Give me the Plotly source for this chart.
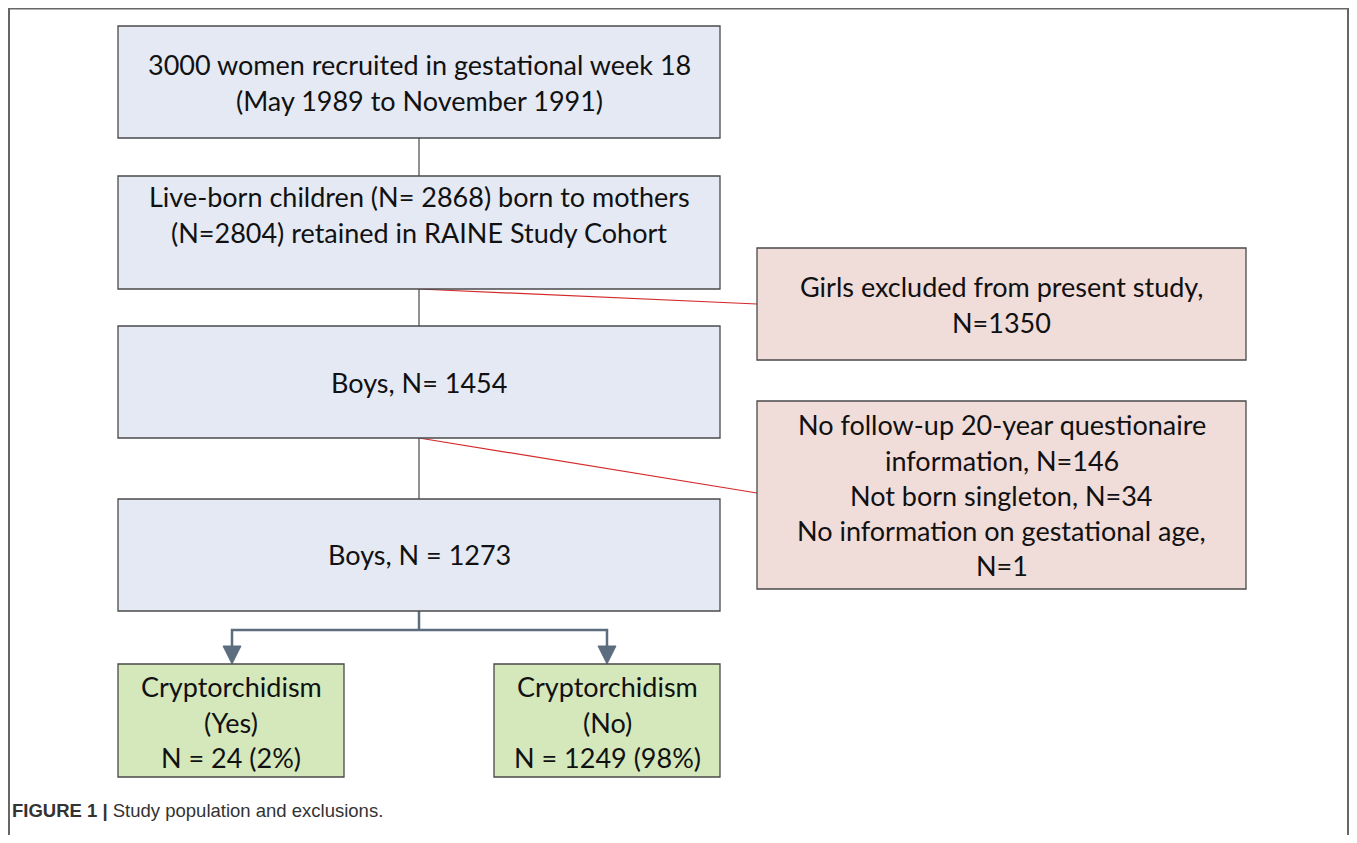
import plotly.graph_objects as go

PAGE_W, PAGE_H = 1357, 843
OFF = 8  # page body margin compensation
W, H = PAGE_W - 2 * OFF, PAGE_H - 2 * OFF

# ---- content (text data) ----
main_labels = [
    ["3000 women recruited in gestational week 18", "(May 1989 to November 1991)"],
    ["Live-born children (N= 2868) born to mothers", "(N=2804) retained in RAINE Study Cohort"],
    ["Boys, N= 1454"],
    ["Boys, N = 1273"],
]
excl_labels = [
    ["Girls excluded from present study,", "N=1350"],
    ["No follow-up 20-year questionaire", "information, N=146", "Not born singleton, N=34",
     "No information on gestational age,", "N=1"],
]
outcome_labels = [
    ["Cryptorchidism", "(Yes)", "N = 24 (2%)"],
    ["Cryptorchidism", "(No)", "N = 1249 (98%)"],
]
caption_bold = "FIGURE 1 |"
caption_text = " Study population and exclusions."

# ---- layout geometry (page pixel coordinates) ----
main_boxes = [(118, 26, 720, 138), (118, 176, 720, 289), (118, 326, 720, 438), (118, 499, 720, 611)]
main_text_y = [[64, 100], [196, 232], [382], [554]]
excl_boxes = [(757, 248, 1246, 360), (757, 401, 1246, 589)]
excl_text_y = [[286, 322], [424, 460, 495, 530, 565]]
out_boxes = [(118, 664, 344, 777), (494, 664, 720, 777)]
out_text_y = [[686, 722, 757], [686, 722, 757]]

BLUE = "#e5e9f4"
PINK = "#f0dcd9"
GREEN = "#d4e8bc"
EDGE = "#4a4a4a"
TXT = "#111111"
FONT = "Lato"
FS = 27
ARROW = "#5b6d7f"

shapes = []
annotations = []

# outer frame
shapes.append(dict(type="path", path=f"M 9 {PAGE_H+20} L 9 8.5 L 1348 8.5 L 1348 {PAGE_H+20}",
                   line=dict(color="#666666", width=2)))

# vertical connectors
cx = 419
for (a, b) in [(138, 176), (289, 326), (438, 499)]:
    shapes.append(dict(type="line", x0=cx, x1=cx, y0=a, y1=b,
                       line=dict(color="#222222", width=1)))
shapes.append(dict(type="line", x0=cx, x1=cx, y0=611, y1=630, line=dict(color=ARROW, width=2.5)))

# red exclusion lines
shapes.append(dict(type="line", x0=cx, y0=289, x1=757, y1=304, line=dict(color="#d42a2a", width=1.2)))
shapes.append(dict(type="line", x0=cx, y0=438, x1=757, y1=493, line=dict(color="#d42a2a", width=1.2)))

# split to outcomes
shapes.append(dict(type="path", path="M 232 647 L 232 630 L 607 630 L 607 647",
                   line=dict(color=ARROW, width=2.5)))
for ax in (232, 607):
    shapes.append(dict(type="path", path=f"M {ax-9} 646 L {ax+9} 646 L {ax} 664 Z",
                       fillcolor=ARROW, line=dict(color=ARROW, width=1)))


def add_box(box, fill, lines, ys):
    x0, y0, x1, y1 = box
    shapes.append(dict(type="rect", x0=x0, y0=y0, x1=x1, y1=y1, fillcolor=fill,
                       line=dict(color=EDGE, width=1.3)))
    for t, y in zip(lines, ys):
        annotations.append(dict(x=(x0 + x1) / 2, y=y, text=t, showarrow=False,
                                xanchor="center", yanchor="middle",
                                font=dict(family=FONT, size=FS, color=TXT)))


for b, l, ys in zip(main_boxes, main_labels, main_text_y):
    add_box(b, BLUE, l, ys)
for b, l, ys in zip(excl_boxes, excl_labels, excl_text_y):
    add_box(b, PINK, l, ys)
for b, l, ys in zip(out_boxes, outcome_labels, out_text_y):
    add_box(b, GREEN, l, ys)

annotations.append(dict(x=10, y=810, xanchor="left", yanchor="middle", showarrow=False,
                        text=f"<b>{caption_bold}</b>{caption_text}",
                        font=dict(family="Liberation Sans, Arial", size=18.5, color="#333333")))

fig = go.Figure()
fig.update_layout(
    width=W, height=H, margin=dict(l=0, r=0, t=0, b=0),
    paper_bgcolor="white", plot_bgcolor="white",
    xaxis=dict(range=[OFF, W + OFF], visible=False, fixedrange=True),
    yaxis=dict(range=[H + OFF, OFF], visible=False, fixedrange=True),
    shapes=shapes, annotations=annotations, showlegend=False,
)
fig.write_html("out.html")
